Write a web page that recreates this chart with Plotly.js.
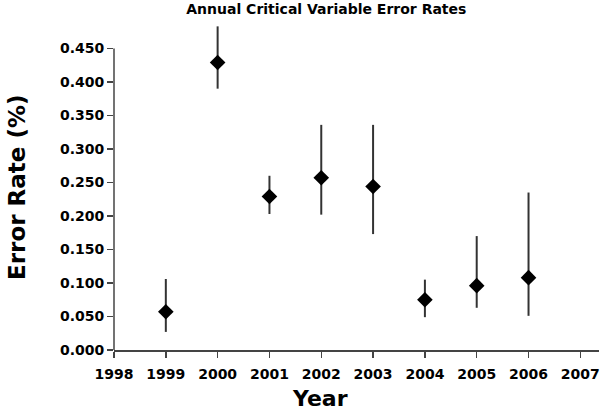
<!DOCTYPE html>
<html>
<head>
<meta charset="utf-8">
<script src="https://cdn.plot.ly/plotly-3.0.1.min.js"></script>
<style>html,body{margin:0;padding:0;background:#fff;}#chart{width:601px;height:411px;}</style>
</head>
<body>
<div id="chart"></div>
<script>
// Annual critical variable error rates with asymmetric error bars
const years = [1999, 2000, 2001, 2002, 2003, 2004, 2005, 2006];
const rates = [0.057, 0.429, 0.229, 0.257, 0.244, 0.075, 0.096, 0.108];
const upper = [0.106, 0.483, 0.260, 0.336, 0.336, 0.105, 0.170, 0.235];
const lower = [0.027, 0.390, 0.203, 0.202, 0.173, 0.049, 0.063, 0.051];
const yTicks = [0, 0.05, 0.1, 0.15, 0.2, 0.25, 0.3, 0.35, 0.4, 0.45];
const xTicks = [1998, 1999, 2000, 2001, 2002, 2003, 2004, 2005, 2006, 2007];

const FONT = '"DejaVu Sans", sans-serif';
const AXIS = '#444';
const Y_TOP = 0.45;          // visible axis line stops at the last tick

const trace = {
  x: years, y: rates, type: 'scatter', mode: 'markers', cliponaxis: false,
  marker: { symbol: 'diamond', size: 12, color: '#000' },
  error_y: {
    type: 'data', symmetric: false,
    array: upper.map((u, i) => u - rates[i]),
    arrayminus: lower.map((l, i) => rates[i] - l),
    color: '#333', thickness: 2, width: 0,
  },
  hoverinfo: 'x+y',
};

const layout = {
  width: 601, height: 411,
  margin: { l: 114, r: 2, t: 22, b: 61 },
  paper_bgcolor: '#fff', plot_bgcolor: '#fff',
  showlegend: false,
  font: { family: FONT, color: '#000' },
  title: {
    text: '<b>Annual Critical Variable Error Rates</b>',
    font: { size: 14, family: FONT, color: '#000' },
    xref: 'container', x: 0.543, xanchor: 'center',
    yref: 'container', y: 0.978, yanchor: 'middle',
  },
  xaxis: {
    range: [1998, 2007.36], tickvals: xTicks, ticktext: xTicks.map(v => '<b>' + v + '</b>'),
    showgrid: false, zeroline: false, showline: true, linecolor: AXIS, linewidth: 1.5,
    ticks: 'outside', ticklen: 6, tickwidth: 1.5, tickcolor: AXIS,
    ticklabelstandoff: 5,
    tickfont: { size: 14, family: FONT },
  },
  yaxis: {
    range: [0, 0.4895], tickvals: yTicks, ticktext: yTicks.map(v => '<b>' + v.toFixed(3) + '</b>'),
    showgrid: false, zeroline: false, showline: false,
    ticks: 'outside', ticklen: 6, tickwidth: 1.5, tickcolor: AXIS,
    tickfont: { size: 14, family: FONT },
  },
  shapes: [{
    type: 'line', xref: 'paper', yref: 'y', x0: 0, x1: 0, y0: 0, y1: Y_TOP,
    line: { color: AXIS, width: 1.5 },
  }],
  annotations: [
    { text: '<b>Year</b>', xref: 'paper', yref: 'paper', x: 0.4247, y: -0.149,
      xanchor: 'center', yanchor: 'middle', showarrow: false,
      font: { size: 22, family: FONT, color: '#000' } },
    { text: '<b>Error Rate (%)</b>', xref: 'paper', yref: 'paper', x: -0.2, y: 0.494,
      xanchor: 'center', yanchor: 'middle', textangle: -90, showarrow: false,
      font: { size: 23, family: FONT, color: '#000' } },
  ],
};

Plotly.newPlot('chart', [trace], layout, { displayModeBar: false, staticPlot: true });
</script>
</body>
</html>
